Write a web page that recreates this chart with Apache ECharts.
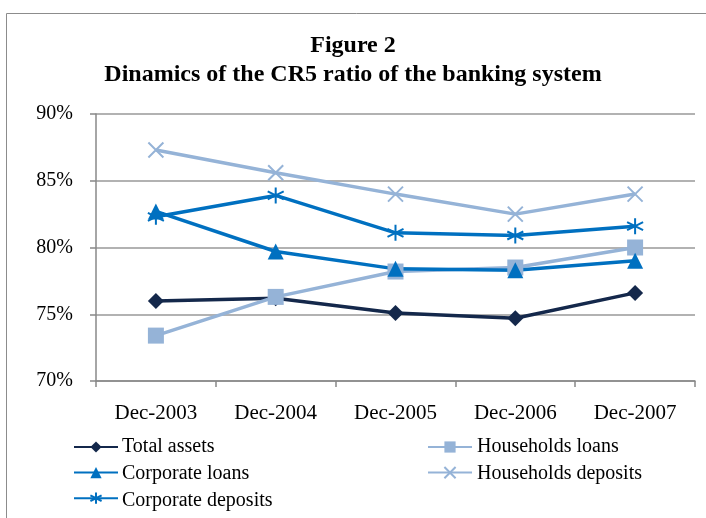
<!DOCTYPE html>
<html>
<head>
<meta charset="utf-8">
<script src="https://cdn.jsdelivr.net/npm/echarts@6/dist/echarts.min.js"></script>
<style>html,body{margin:0;padding:0;background:#fff}#c{width:706px;height:518px}</style>
</head>
<body>
<div id="c"></div>
<script>
var categories = ['Dec-2003', 'Dec-2004', 'Dec-2005', 'Dec-2006', 'Dec-2007'];
var totalAssets = [76.0, 76.2, 75.1, 74.7, 76.6];
var householdsLoans = [73.4, 76.3, 78.2, 78.5, 80.0];
var corporateLoans = [82.7, 79.7, 78.4, 78.3, 79.0];
var householdsDeposits = [87.3, 85.6, 84.0, 82.5, 84.0];
var corporateDeposits = [82.3, 83.9, 81.1, 80.9, 81.6];
var yTicks = [70, 75, 80, 85, 90];
var legendLeft = ['Total assets', 'Corporate loans', 'Corporate deposits'];
var legendRight = ['Households loans', 'Households deposits'];

var FONT = '"Liberation Serif", "Times New Roman", serif';
var NAVY = '#14284b', LIGHT = '#95b3d7', BLUE = '#0070c0';
var xPath = 'path://M0,0L10,10M10,0L0,10';
var starPath = 'path://M5,0L5,10M0.7,2.5L9.3,7.5M9.3,2.5L0.7,7.5';

function mk(name, data, color, symbol, size, stroke) {
  return {
    name: name, type: 'line', data: data, symbol: symbol, symbolSize: size,
    lineStyle: { color: color, width: 3.5 },
    itemStyle: { color: color, borderColor: color, borderWidth: stroke || 0 },
    emphasis: { disabled: true }
  };
}

// legend labels drawn as text next to the library's legend icons
var labelGraphics = [];
function addLabels(names, x) {
  names.forEach(function (n, i) {
    labelGraphics.push({
      type: 'text', left: x, top: 437 + i * 27, silent: true,
      style: { text: n, font: '20px ' + FONT, fill: '#000' }
    });
  });
}
addLabels(legendLeft, 122);
addLabels(legendRight, 477);

var chart = echarts.init(document.getElementById('c'), null, { renderer: 'canvas' });
chart.setOption({
  animation: false,
  backgroundColor: '#fff',
  textStyle: { fontFamily: FONT },
  graphic: [{
    type: 'rect', shape: { x: 6.5, y: 13.5, width: 760, height: 560 },
    style: { fill: 'none', stroke: '#8c8c8c', lineWidth: 1 }, silent: true
  }].concat(labelGraphics),
  title: {
    text: 'Figure 2\nDinamics of the CR5 ratio of the banking system',
    left: 'center', top: 26,
    textStyle: { fontFamily: FONT, fontWeight: 'bold', fontSize: 24, lineHeight: 29, color: '#000' }
  },
  grid: { left: 96, right: 11, top: 114, bottom: 137 },
  xAxis: {
    type: 'category', data: categories, boundaryGap: true,
    axisLine: { lineStyle: { color: '#888', width: 1.5 } },
    axisTick: { show: true, length: 6, interval: 0, lineStyle: { color: '#888', width: 1.5 } },
    axisLabel: { fontFamily: FONT, fontSize: 21, color: '#000', margin: 22 }
  },
  yAxis: {
    type: 'value', min: 70, max: 90, interval: 5,
    axisLine: { show: true, lineStyle: { color: '#888', width: 1.5 } },
    axisTick: { show: true, length: 6, lineStyle: { color: '#888', width: 1.5 } },
    splitLine: { lineStyle: { color: '#999', width: 1.5 } },
    axisLabel: { fontFamily: FONT, fontSize: 20, color: '#000', margin: 23,
      formatter: function (v) { return yTicks.indexOf(v) >= 0 ? v + '%' : ''; } }
  },
  legend: [{
    data: legendLeft, formatter: function () { return ''; },
    orient: 'vertical', left: 73, top: 440, padding: 0, height: 90,
    itemWidth: 44, itemHeight: 14, itemGap: 13
  }, {
    data: legendRight, formatter: function () { return ''; },
    orient: 'vertical', left: 427, top: 440, padding: 0, height: 90,
    itemWidth: 44, itemHeight: 14, itemGap: 13
  }],
  series: [
    mk('Total assets', totalAssets, NAVY, 'diamond', 16),
    mk('Households loans', householdsLoans, LIGHT, 'rect', 16),
    mk('Corporate loans', corporateLoans, BLUE, 'triangle', 16),
    mk('Households deposits', householdsDeposits, LIGHT, xPath, 15, 2),
    mk('Corporate deposits', corporateDeposits, BLUE, starPath, 16, 2)
  ]
});
</script>
</body>
</html>
